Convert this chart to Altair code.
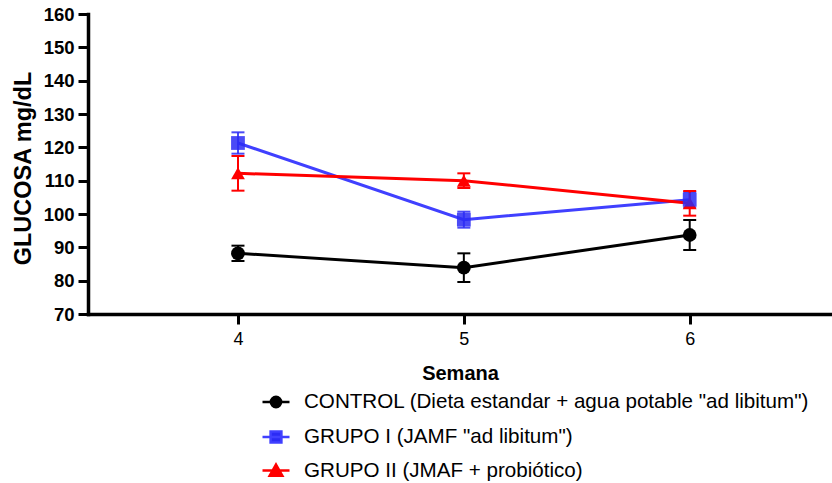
import altair as alt
import pandas as pd

# Weekly blood glucose (mean ± SEM) per treatment group
semanas = [4, 5, 6]
grupos = [
    'CONTROL (Dieta estandar + agua potable "ad libitum")',
    'GRUPO I (JAMF "ad libitum")',
    'GRUPO II (JMAF + probiótico)',
]
control_media = [88.2, 83.9, 93.7]
control_ee = [2.3, 4.3, 4.5]
grupo1_media = [121.3, 98.3, 104.3]
grupo1_ee = [3.2, 2.4, 2.3]
grupo2_media = [112.2, 110.0, 103.2]
grupo2_ee = [5.2, 2.2, 3.7]

medias = [control_media, grupo1_media, grupo2_media]
errores = [control_ee, grupo1_ee, grupo2_ee]

rows = []
for g, ms, es in zip(grupos, medias, errores):
    for s, m, e in zip(semanas, ms, es):
        rows.append({"grupo": g, "semana": s, "media": m, "lo": m - e, "hi": m + e})
df = pd.DataFrame(rows)

FONT = "Liberation Sans"
line_colors = ["#000000", "#4040ff", "#ff0000"]
marker_colors = ["#000000", "#2b2bf5", "#ff0000"]
marker_opacity = [1.0, 0.85, 1.0]
shapes = ["circle", "square", "triangle-up"]
# legend glyphs: a short line segment with the group's marker on it
legend_paths = [
    "M-1,0H1M0.38,0A0.38,0.38,0,1,1,-0.38,0A0.38,0.38,0,1,1,0.38,0Z",
    "M-1,0H1M-0.4,-0.4H0.4V0.4H-0.4Z",
    "M-1,0H1M0,-0.44L0.47,0.38H-0.47Z",
]
legend_y = [373, 408, 441.5]

x_enc = alt.X(
    "semana:Q",
    title="Semana",
    scale=alt.Scale(domain=[3.336, 6.63], nice=False, zero=False),
    axis=alt.Axis(values=semanas, format="d"),
)
y_scale = alt.Scale(domain=[70, 160], nice=False, zero=False)
y_axis = alt.Axis(values=list(range(70, 161, 10)))
Y_TITLE = "GLUCOSA mg/dL"

layers_lines = []
layers_err = []
layers_pts = []
for i, g in enumerate(grupos):
    base = alt.Chart(df).transform_filter(alt.datum.grupo == g)
    lc = line_colors[i]
    mc = marker_colors[i]

    line = base.mark_line(strokeWidth=3, color=lc).encode(
        x=x_enc,
        y=alt.Y("media:Q", title=Y_TITLE, scale=y_scale, axis=y_axis),
        color=alt.Color(
            "grupo:N",
            scale=alt.Scale(domain=[g], range=[lc]),
            legend=alt.Legend(
                title=None,
                orient="none",
                legendX=173,
                legendY=legend_y[i],
                padding=0,
                symbolType=legend_paths[i],
                symbolSize=729,
                symbolStrokeWidth=2.5,
                symbolFillColor=mc,
                symbolOpacity=1,
                labelFont=FONT,
                labelFontSize=20.6,
                labelColor="#000000",
                labelOffset=13,
                labelLimit=0,
            ),
        ),
    )
    layers_lines.append(line)

    rule = base.mark_rule(strokeWidth=2, color=mc, opacity=marker_opacity[i]).encode(
        x=x_enc,
        y=alt.Y("lo:Q", title=Y_TITLE, scale=y_scale, axis=y_axis),
        y2="hi:Q",
    )
    cap_lo = base.mark_tick(orient="horizontal", size=13, thickness=2, color=mc,
                            opacity=marker_opacity[i]).encode(
        x=x_enc,
        y=alt.Y("lo:Q", title=Y_TITLE, scale=y_scale, axis=y_axis),
    )
    cap_hi = base.mark_tick(orient="horizontal", size=13, thickness=2, color=mc,
                            opacity=marker_opacity[i]).encode(
        x=x_enc,
        y=alt.Y("hi:Q", title=Y_TITLE, scale=y_scale, axis=y_axis),
    )
    layers_err += [rule, cap_lo, cap_hi]

    pts = base.mark_point(
        filled=True, shape=shapes[i], size=190, color=mc, opacity=marker_opacity[i]
    ).encode(
        x=x_enc,
        y=alt.Y("media:Q", title=Y_TITLE, scale=y_scale, axis=y_axis),
    )
    layers_pts.append(pts)

# draw order: black, red, blue markers on top
pts_order = [layers_pts[0], layers_pts[2], layers_pts[1]]

chart = (
    alt.layer(*layers_err, *layers_lines, *pts_order)
    .resolve_scale(color="independent")
    .properties(
        width=744,
        height=300,
        autosize=alt.AutoSizeParams(type="none"),
        padding={"left": 88, "top": 14, "right": 0, "bottom": 169},
        background="#ffffff",
    )
    .configure_view(stroke=None)
    .configure_axis(
        grid=False,
        domainColor="#000000",
        domainWidth=3.5,
        domainCap="square",
        tickColor="#000000",
        tickWidth=3,
        tickSize=10,
        labelColor="#000000",
        titleColor="#000000",
        labelFont=FONT,
        titleFont=FONT,
    )
    .configure_axisX(
        labelFontSize=18,
        labelPadding=6,
        titleFontSize=20,
        titleFontWeight="bold",
        titleBaseline="alphabetic",
        titleY=65,
    )
    .configure_axisY(
        labelFontSize=18.5,
        labelFontWeight="bold",
        labelPadding=4,
        titleFontSize=23.5,
        titleFontWeight="bold",
        titleBaseline="middle",
        titleX=-65,
        titleY=154,
    )
)

chart.save("out.html", embed_options={"renderer": "svg", "actions": False})
